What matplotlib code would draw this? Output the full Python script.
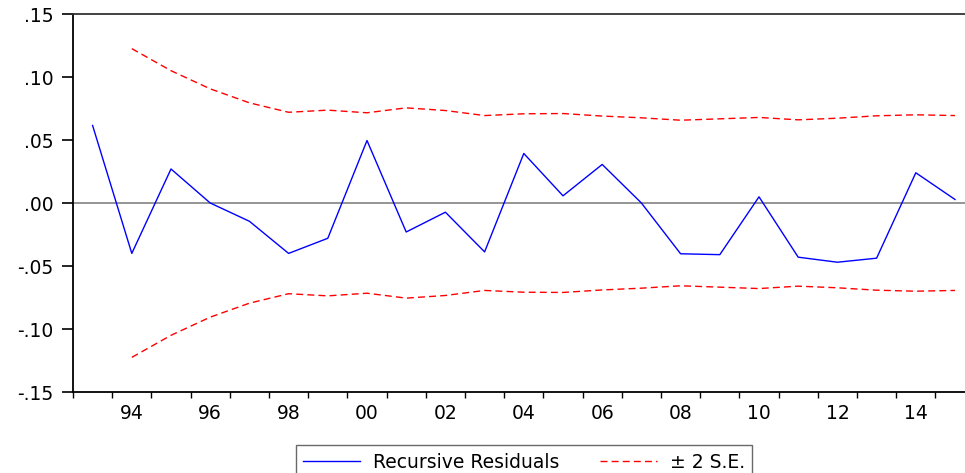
import numpy as np
import matplotlib
matplotlib.use('Agg')
import matplotlib.pyplot as plt

# Data (EViews recursive residuals)
years = np.arange(1993, 2016)
resid = [0.0615, -0.040, 0.027, 0.000, -0.0145, -0.040, -0.028, 0.0496,
         -0.023, -0.0073, -0.0388, 0.0393, 0.0057, 0.0306, 0.000, -0.0403,
         -0.041, 0.0049, -0.043, -0.047, -0.0438, 0.024, 0.0028]
se_years = np.arange(1994, 2016)
se_band = [0.1225, 0.105, 0.0906, 0.0795, 0.072, 0.0737, 0.0716, 0.0755,
           0.0734, 0.0694, 0.0708, 0.071, 0.069, 0.0676, 0.0657, 0.0668,
           0.0679, 0.066, 0.0673, 0.0692, 0.070, 0.0694]
yticks = [-0.15, -0.10, -0.05, 0.00, 0.05, 0.10, 0.15]
label_years = np.arange(1994, 2015, 2)

plt.rcParams['font.family'] = ['DejaVu Sans']

fig = plt.figure(figsize=(9.65, 4.73), dpi=100)
ax = fig.add_axes([73 / 965, 81 / 473, 901.6 / 965, 378 / 473])

x = years + 0.5
xs = se_years + 0.5
se = np.array(se_band)

ax.axhline(0, color='#8c8c8c', lw=1.3, zorder=1)
ax.plot(x, resid, color='#0000ff', lw=1.0, label='Recursive Residuals', zorder=3)
ax.plot(xs, se, color='#ff0000', lw=1.0, ls=(0, (5, 3)), label='± 2 S.E.', zorder=2)
ax.plot(xs, -se, color='#ff0000', lw=1.0, ls=(0, (5, 3)), zorder=2)

ax.set_xlim(1993, 2016)
ax.set_ylim(-0.15, 0.15)

# y axis
ax.set_yticks(yticks)
ax.set_yticklabels([('-' if v < 0 else '') + ('%.2f' % abs(v))[1:] for v in yticks])
ax.tick_params(axis='y', direction='out', length=8, width=1.2, pad=6,
               labelsize=13.5, colors='black')

# x axis: tick marks at year boundaries, labels at mid-year
ax.set_xticks(np.arange(1993, 2017))
ax.set_xticklabels([])
ax.set_xticks(label_years + 0.5, minor=True)
ax.set_xticklabels(['%02d' % (y % 100) for y in label_years], minor=True)
ax.tick_params(axis='x', which='major', direction='out', length=4.5, width=1.0)
ax.tick_params(axis='x', which='minor', length=0, pad=8.5, labelsize=13.5)

for side in ['left', 'bottom']:
    ax.spines[side].set_linewidth(1.3)
    ax.spines[side].set_color('black')
ax.spines['top'].set_linewidth(1.3)
ax.spines['top'].set_color('#333333')
ax.spines['right'].set_visible(False)

leg = fig.legend(loc='upper center', bbox_to_anchor=(524 / 965, 1 - 445 / 473),
                 ncol=2, fontsize=13.5, frameon=True, fancybox=False,
                 handlelength=3.0, handletextpad=0.7, columnspacing=2.2,
                 borderpad=0.4, borderaxespad=0)
leg.get_frame().set_edgecolor('#444444')
leg.get_frame().set_linewidth(1.0)

fig.savefig('out.png', dpi=100)
